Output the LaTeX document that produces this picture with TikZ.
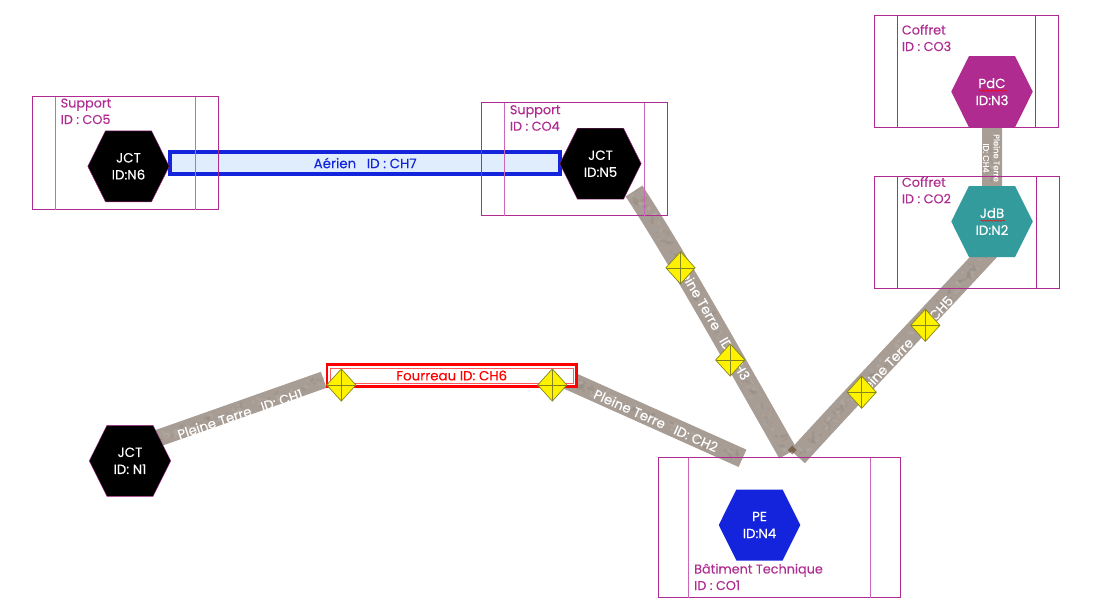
\documentclass[tikz,border=0pt]{standalone}
\usepackage{fontspec}
\setmainfont{Poppins}[FakeBold=0.07]
\usetikzlibrary{shapes.geometric,shapes.symbols,decorations.pathmorphing,calc}
\definecolor{frame}{HTML}{AF2B90}
\definecolor{framelight}{HTML}{CB66BA}
\definecolor{earth}{HTML}{A79D95}
\definecolor{earthdark}{HTML}{847A71}
\definecolor{earthlight}{HTML}{C4BDB6}
\definecolor{aerblue}{HTML}{1424DC}
\definecolor{aerfill}{HTML}{DFEDFD}
\definecolor{teal}{HTML}{339B9B}
\definecolor{olive}{HTML}{85851F}
\newcommand{\txt}{\fontsize{13.4}{17}\selectfont}
\newcommand{\boxtxt}{\fontsize{12.8}{16.5}\selectfont}
\newcommand{\mottle}[3]{%
  \foreach \mi in {1,...,#2}{%
    \pgfmathsetmacro\mt{rnd}%
    \pgfmathsetmacro\mdx{(rnd-.5)*2*#3}%
    \pgfmathsetmacro\mdy{(rnd-.5)*2*#3}%
    \pgfmathsetmacro\mra{1+rnd*3}%
    \pgfmathsetmacro\mrb{.7+rnd*1.2}%
    \pgfmathsetmacro\mang{rnd*180}%
    \pgfmathsetmacro\mk{rnd}%
    \path #1 coordinate[pos=\mt] (mp);
    \ifdim\mk pt<.5pt
      \fill[earthdark,opacity=.22,rotate around={\mang:($(mp)+(\mdx,\mdy)$)}] ($(mp)+(\mdx,\mdy)$) ellipse [x radius=\mra pt,y radius=\mrb pt];
    \else
      \fill[earthlight,opacity=.22,rotate around={\mang:($(mp)+(\mdx,\mdy)$)}] ($(mp)+(\mdx,\mdy)$) ellipse [x radius=\mra pt,y radius=\mrb pt];
    \fi
  }}
\tikzset{
  earthstrip/.style={line width=19pt,draw=earth,line cap=butt},
  stripLabel/.style={text=white,inner sep=0pt,font=\txt},
  boxframe/.style={draw=frame,line width=1pt,inner sep=0pt},
  innerdark/.style={draw=frame,line width=1pt},
  innerlight/.style={draw=framelight,line width=1pt},
  boxlabel/.style={text=frame,align=left,inner sep=0pt,anchor=base west,font=\boxtxt},
  hexnode/.style={signal,signal to=east and west,signal pointer angle=127,minimum width=81.5pt,minimum height=71pt,inner sep=0pt,align=center,text=white,font=\txt},
  joint/.style={diamond,draw=olive,fill=yellow,line width=.7pt,minimum width=29.5pt,minimum height=32.5pt,inner sep=0pt,
    path picture={\draw[olive,line width=.6pt] (path picture bounding box.north)--(path picture bounding box.south) (path picture bounding box.west)--(path picture bounding box.east);}},
  squiggle/.style={red,line width=.5pt,decorate,decoration={snake,amplitude=.7pt,segment length=3pt}},
}
\begin{document}
\begin{tikzpicture}[x=1pt,y=-1pt]
\useasboundingbox (0,0) rectangle (1112,611);
\pgfmathsetseed{4711}
% end points of the ground strips
\coordinate (c1a) at (150,441);
\coordinate (c1b) at (323.7,379.8);
\coordinate (c2a) at (560,376.5);
\coordinate (c2b) at (742.5,458.3);
\coordinate (c3a) at (634,191);
\coordinate (c3b) at (788,453.5);
\coordinate (c5a) at (990,250);
\coordinate (c5b) at (797.5,456.5);
\pgfdeclarelayer{top}\pgfdeclarelayer{mid}\pgfsetlayers{main,mid,top}
\begin{pgfonlayer}{top}
\node[hexnode,fill=black,draw=frame] (n6) at (128.5,166.3) {JCT\\ID:N6};
\node[hexnode,fill=black,draw=frame] (n5) at (600.5,163.7) {JCT\\ID:N5};
\node[hexnode,fill=frame] (n3) at (992,91.7) {PdC\\ID:N3};
\node[hexnode,fill=teal] (n2) at (992,221.5) {JdB\\ID:N2};
\node[hexnode,fill=black,draw=frame] (n1) at (130,460.8) {JCT\\ID: N1};
\node[hexnode,fill=aerblue] (n4) at (759.5,525) {PE\\ID:N4};
\draw[squiggle] (979.3,90.7) -- (1006.7,90.7);
\draw[squiggle] (980.7,220.7) -- (1005,220.7);
\node[joint] (j1) at (341.3,385) {};
\node[joint] (j2) at (552.3,385) {};
\node[joint] (j3) at (680.5,267.8) {};
\node[joint] (j4) at (730.2,360) {};
\node[joint] (j5) at (925.3,325.3) {};
\node[joint] (j6) at (861.7,392.2) {};
\end{pgfonlayer}
% ground strips
\draw[earthstrip,line width=17pt] (c1a) -- (c1b);
\draw[earthstrip] (c2a) -- (c2b);
\draw[earthstrip,line width=20pt] (c3a) .. controls (670,246) and (715,325) .. (c3b);
\draw[earthstrip,line width=20pt] (c5a) .. controls (925,320) and (845,404) .. (c5b);
\draw[earthstrip,line width=20pt] (n3) -- (n2);
\mottle{(c1a) -- (c1b)}{70}{4}
\mottle{(c2a) -- (c2b)}{80}{4.5}
\mottle{(c3a) .. controls (670,246) and (715,325) .. (c3b)}{130}{5}
\mottle{(c5a) .. controls (925,320) and (845,404) .. (c5b)}{120}{5}
\mottle{(992,127) -- (992,186)}{25}{5}
\fill[brown!50!black,opacity=.6] (792.3,445.5) -- (796.5,450) -- (792.3,454.5) -- (788,450) -- cycle;
\node[stripLabel,rotate=18.5] (l1) at (240,414) {Pleine Terre\ \ \ ID: CH1};
\node[stripLabel,rotate=-24] (l2) at (656,420.5) {Pleine Terre\ \ \ ID: CH2};
\node[stripLabel,rotate=-60] (l3) at (713,320.5) {Pleine Terre\ \ \ ID: CH3};
\node[stripLabel,rotate=46.5] (l5) at (904,347) {Pleine Terre\ \ \ ID: CH5};
\node[stripLabel,rotate=-90,align=center,font=\fontsize{8.3}{10.5}\selectfont] (l4) at (991.5,158) {Pleine Terre\\ID: CH4};
% sheathed sections
\node[draw=aerblue,fill=aerfill,line width=4pt,minimum width=390.3pt,minimum height=22pt,inner sep=0pt,text=aerblue,font=\txt] (ch7) at (365.15,163) {Aérien\ \ \ ID : CH7};
\node[draw=red,fill=white,line width=2.4pt,minimum width=249.5pt,minimum height=22pt,inner sep=0pt] (ch6) at (451.7,375.5) {};
\node[draw=red!65,line width=.8pt,minimum width=242.5pt,minimum height=15pt,inner sep=0pt,text=red,font=\txt] (ch6t) at (451.7,375.5) {Fourreau ID: CH6};
% containers
\begin{pgfonlayer}{mid}
\node[boxframe,minimum width=186pt,minimum height=113pt] (co5) at (125.5,153) {};
\draw[innerlight] (55.5,96.5) -- (55.5,209.5) (195.5,96.5) -- (195.5,209.5);
\node[boxlabel] (t5) at (60.5,124) {Support\\ID : CO5};
\node[boxframe,minimum width=186pt,minimum height=113pt] (co4) at (574.5,159) {};
\draw[innerlight] (504.5,102.5) -- (504.5,215.5) (644.5,102.5) -- (644.5,215.5);
\node[boxlabel] (t4) at (509.7,130.7) {Support\\ID : CO4};
\node[boxframe,minimum width=184pt,minimum height=112pt] (co3) at (966.5,71.5) {};
\draw[innerdark] (897.5,15.5) -- (897.5,127.5) (1035.5,15.5) -- (1035.5,127.5);
\node[boxlabel] (t3) at (901.7,51) {Coffret\\ID : CO3};
\node[boxframe,minimum width=185pt,minimum height=112pt] (co2) at (967,232.5) {};
\draw[innerdark] (897.5,176.5) -- (897.5,288.5) (1036.5,176.5) -- (1036.5,288.5);
\node[boxlabel] (t2) at (901.7,203.3) {Coffret\\ID : CO2};
\node[boxframe,minimum width=242pt,minimum height=140pt] (co1) at (779.5,527.5) {};
\draw[innerlight] (688.5,457.5) -- (688.5,597.5) (870.5,457.5) -- (870.5,597.5);
\node[boxlabel] (t1) at (694,590) {Bâtiment Technique\\ID : CO1};
\end{pgfonlayer}
\end{tikzpicture}
\end{document}
